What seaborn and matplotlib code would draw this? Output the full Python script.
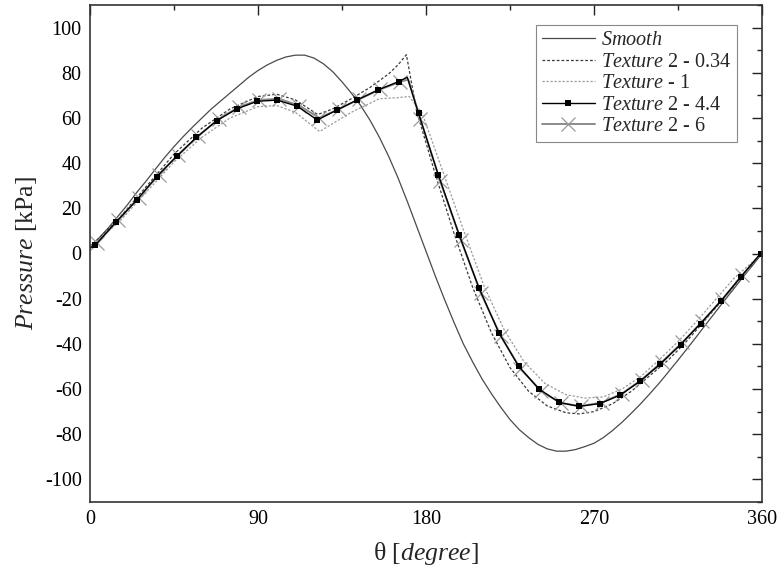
import matplotlib
matplotlib.use("Agg")
import matplotlib.pyplot as plt
import seaborn as sns
from matplotlib.ticker import MultipleLocator

# ---------------- data ----------------
smooth_theta = [0, 5, 10, 15, 20, 25, 30, 35, 40, 45, 50, 55, 60, 65, 70, 75, 80, 85, 90,
                95, 100, 105, 110, 115, 120, 125, 130, 135, 140, 145, 150, 155, 160, 165,
                170, 175, 180, 185, 190, 195, 200, 205, 210, 215, 220, 225, 230, 235, 240,
                245, 250, 255, 260, 265, 270, 275, 280, 285, 290, 295, 300, 305, 310, 315,
                320, 325, 330, 335, 340, 345, 350, 355, 360]
smooth_p = [3, 7, 11.5, 16.5, 21.5, 27, 32, 37.3, 42.5, 47.3, 51.8, 56, 60, 64, 67.5, 71,
            74.5, 78, 81, 83.5, 85.5, 87, 87.8, 87.8, 86.5, 84, 80.5, 76, 71, 65.5, 59,
            51.5, 43, 33.5, 23, 12, 1, -10, -20.5, -30.5, -40, -48, -55.5, -62, -68,
            -73.5, -78, -81.5, -84.5, -86.5, -87.5, -87.5, -86.8, -85.5, -84, -81.5, -78.3,
            -74.7, -70.7, -66.5, -62, -57.3, -52.3, -47.2, -42, -36.7, -31.3, -26, -20.7,
            -15.5, -10.3, -5.2, 0]

t034_theta = [0, 15, 30, 45, 60, 75, 90, 100, 110, 122, 130, 140, 150, 160, 165, 169.5,
              175, 180, 185, 195, 205, 215, 225, 235, 245, 255, 262, 270, 280, 290,
              300, 310, 320, 330, 340, 350, 360]
t034_p = [3, 15, 29.5, 44, 55.5, 64, 69.5, 70.5, 68, 61.5, 64, 68.5, 73.5, 79.5, 83.5, 88,
          63, 49, 35, 9, -15, -35, -50.5, -61, -67.5, -70.5, -71, -70, -66.5, -61,
          -54, -47, -38.5, -29, -19.5, -9.5, 0]

t1_theta = [0, 15, 30, 45, 60, 75, 90, 100, 110, 123, 130, 140, 155, 165, 171, 178,
            189.6, 200.7, 211.4, 222, 232.6, 243.7, 255, 265, 275, 285, 295, 305, 315,
            325, 335, 345, 360]
t1_p = [3, 13.5, 27, 40.5, 51.5, 60, 65, 65.5, 62.5, 54, 57.5, 62.5, 68.5, 69, 69.5, 62,
        35, 9, -15, -34, -48, -57.5, -62.5, -64, -63.5, -60, -54.5, -47, -39,
        -30, -20.5, -11, 0]

t44_theta = [0, 2.7, 13.9, 25.0, 35.7, 46.4, 57.0, 67.9, 78.6, 89.6, 100.3, 111.0, 121.8,
             132.5, 143.2, 154.3, 165.3, 170.0, 176.0, 186.6, 197.7, 208.4, 219.0, 229.6,
             240.7, 251.4, 262.0, 273.2, 284.0, 294.6, 305.4, 316.4, 327.1, 337.8, 348.5,
             359.3, 360]
t44_p = [2.5, 3.6, 13.9, 23.6, 34.0, 43.0, 51.4, 58.8, 64.0, 67.4, 67.9, 65.2, 59.1,
         63.6, 68.0, 72.4, 76.1, 78.0, 62.0, 34.8, 8.4, -15.3, -35.0, -49.9,
         -60.1, -65.9, -67.7, -66.4, -62.7, -56.6, -49.0, -40.3, -31.0, -21.2, -10.5,
         0.0, 0.3]
t44_unmarked = [0, 170.0, 360]

t6_theta = [0, 3.8, 15.0, 26.0, 36.7, 47.4, 58.0, 68.9, 79.6, 90.6, 101.3, 112.0, 122.8,
            133.5, 144.2, 155.3, 166.3, 170.5, 177.0, 187.6, 198.7, 209.4, 220.0, 230.6,
            241.7, 252.4, 263.0, 274.2, 285.0, 295.6, 306.4, 317.4, 328.1, 338.8, 349.5,
            360]
t6_p = [2.5, 4.5, 14.8, 24.5, 34.8, 43.8, 52.0, 59.5, 64.8, 68.0, 68.5, 65.5, 60.0,
        64.0, 68.3, 72.6, 76.0, 77.0, 59.5, 32.0, 6.0, -17.5, -36.5, -51.0,
        -61.0, -66.3, -67.5, -66.0, -62.0, -55.8, -48.0, -39.3, -30.0, -20.3, -9.5,
        0.5]
t6_unmarked = [0, 170.5, 360]

labels = [r"$\mathit{Smooth}$",
          r"$\mathit{Texture}$ 2 - 0.34",
          r"$\mathit{Texture}$ - 1",
          r"$\mathit{Texture}$ 2 - 4.4",
          r"$\mathit{Texture}$ 2 - 6"]

x_ticks = [0, 90, 180, 270, 360]
y_ticks = [-100, -80, -60, -40, -20, 0, 20, 40, 60, 80, 100]

# ---------------- style ----------------
sns.set_style("white")
plt.rcParams["font.family"] = ["Liberation Serif", "DejaVu Serif"]
plt.rcParams["mathtext.fontset"] = "custom"
plt.rcParams["mathtext.rm"] = "Liberation Serif"
plt.rcParams["mathtext.it"] = "Liberation Serif:italic"
plt.rcParams["axes.unicode_minus"] = False

fig, ax = plt.subplots(figsize=(7.78, 5.75), dpi=100)
fig.subplots_adjust(left=90 / 778, right=762 / 778, top=1 - 5 / 575, bottom=1 - 502 / 575)

sns.lineplot(x=smooth_theta, y=smooth_p, ax=ax, color="#4a4a4a", lw=0.9,
             label=labels[0], errorbar=None)
sns.lineplot(x=t034_theta, y=t034_p, ax=ax, color="#3a3a3a", lw=0.9,
             linestyle=(0, (2.2, 1.6)), label=labels[1], errorbar=None)
sns.lineplot(x=t1_theta, y=t1_p, ax=ax, color="#9a9a9a", lw=0.9,
             linestyle=(0, (1.8, 1.4)), label=labels[2], errorbar=None)

mark6 = [i for i, t in enumerate(t6_theta) if t not in t6_unmarked]
sns.lineplot(x=t6_theta, y=t6_p, ax=ax, color="#8c8c8c", lw=1.4, marker="x",
             markersize=10, markeredgewidth=0.9, markeredgecolor="#999999",
             markevery=mark6, label=labels[4], errorbar=None)
mark44 = [i for i, t in enumerate(t44_theta) if t not in t44_unmarked]
sns.lineplot(x=t44_theta, y=t44_p, ax=ax, color="black", lw=1.0, marker="s",
             markersize=5, markeredgewidth=0, markerfacecolor="black",
             markevery=mark44, label=labels[3], errorbar=None)

ax.set_xlim(0, 360)
ax.set_ylim(-110, 110)
ax.set_xticks(x_ticks)
ax.set_yticks(y_ticks)
ax.xaxis.set_minor_locator(MultipleLocator(45))
ax.yaxis.set_minor_locator(MultipleLocator(10))
ax.tick_params(which="both", direction="in", top=True, right=True, colors="#222222",
               labelcolor="black", width=1.0)
ax.tick_params(which="major", length=7, labelsize=14.5, pad=6)
ax.tick_params(which="minor", length=3.5)
for s in ax.spines.values():
    s.set_color("#333333")
    s.set_linewidth(1.2)

ax.set_xlabel(r"θ [$\mathit{degree}$]", fontsize=18.5, labelpad=8)
ax.set_ylabel(r"$\mathit{Pressure}$ [kPa]", fontsize=18.5, labelpad=4)

handles, labs = ax.get_legend_handles_labels()
order = [labs.index(l) for l in labels]
leg = ax.legend([handles[i] for i in order], [labs[i] for i in order],
                loc="upper right", bbox_to_anchor=((737 - 90) / 672, (502 - 25) / 497),
                borderaxespad=0, fontsize=14.5, handlelength=2.6, handletextpad=0.3,
                labelspacing=0.12, borderpad=0.3, fancybox=False, framealpha=1,
                edgecolor="#888888")
leg.get_frame().set_linewidth(0.8)

fig.savefig("out.png", dpi=100)
